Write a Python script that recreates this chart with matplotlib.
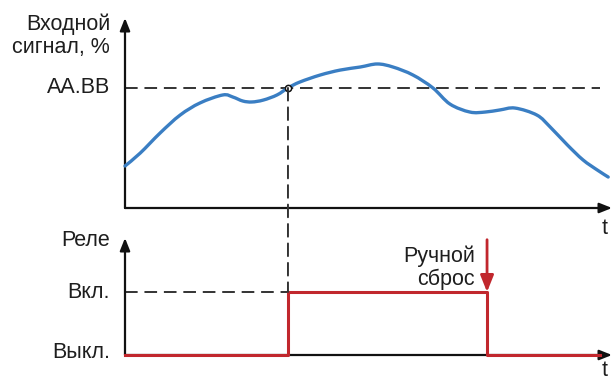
import matplotlib
matplotlib.use('Agg')
import matplotlib.pyplot as plt
from matplotlib.patches import ConnectionPatch, PathPatch
from matplotlib.path import Path

plt.rcParams['font.family'] = ['Liberation Sans', 'DejaVu Sans']

# input signal (time 0..100, signal %)
t_sig = [0, 3.2, 7.4, 11.6, 15.8, 20.6, 22.7, 24.8, 26.7, 29.1, 32.0,
         34.3, 36.8, 41.1, 45.3, 49.5, 53.1, 56.4, 60.6, 64.8, 68.4, 72.6,
         75.8, 78.9, 82.1, 86.7, 89.5, 93.1, 96.4, 99.4, 101.7]
v_sig = [22.1, 28.9, 39.5, 48.9, 55.3, 59.5, 58.4, 56.3, 55.8, 56.8, 59.5,
         63.2, 66.3, 70.0, 72.6, 74.2, 75.8, 74.2, 70.0, 63.2, 54.7, 50.5,
         50.5, 51.6, 52.6, 48.9, 42.6, 33.2, 25.3, 20.0, 16.3]
level = 63.2
level_label = 'AA.BB'
t_on = 34.3
t_off = 76.2
t_end = 100
relay_t = [0, t_on, t_on, t_off, t_off, t_end]
relay_v = [0, 0, 1, 1, 0, 0]

W, H = 614, 381
blue = '#3a7ec3'
red = '#c1272d'
dash_col = '#333333'
txt_col = '#1e1e1e'
dash = (0, (6.5, 3.5))
fs = 15.5


def smooth_path(xs, ys):
    # Catmull-Rom through the read points, drawn as bezier segments
    verts = [(xs[0], ys[0])]
    codes = [Path.MOVETO]
    n = len(xs)
    for i in range(n - 1):
        x0, y0 = (xs[i - 1], ys[i - 1]) if i > 0 else (xs[i], ys[i])
        x1, y1 = xs[i], ys[i]
        x2, y2 = xs[i + 1], ys[i + 1]
        x3, y3 = (xs[i + 2], ys[i + 2]) if i + 2 < n else (x2, y2)
        verts += [(x1 + (x2 - x0) / 6, y1 + (y2 - y0) / 6),
                  (x2 - (x3 - x1) / 6, y2 - (y3 - y1) / 6),
                  (x2, y2)]
        codes += [Path.CURVE4] * 3
    return Path(verts, codes)


fig = plt.figure(figsize=(W / 100, H / 100), dpi=100)
fig.patch.set_facecolor('white')
ax = fig.add_axes([125 / W, (H - 208) / H, 487 / W, 190 / H])
ax2 = fig.add_axes([125 / W, (H - 355) / H, 487 / W, 117 / H])
ax.set_xlim(0, 102.5)
ax.set_ylim(0, 100)
ax2.set_xlim(0, 102.5)
ax2.set_ylim(0, 117 / 63)
for a in (ax, ax2):
    a.set_axis_off()
    head = '-|>,head_length=0.75,head_width=0.3'
    a.annotate('', xy=(1, 0), xytext=(0, 0), xycoords='axes fraction',
               arrowprops=dict(arrowstyle=head, lw=1.6, color='#111111',
                               shrinkA=0, shrinkB=0))
    a.annotate('', xy=(0, 1), xytext=(0, 0), xycoords='axes fraction',
               arrowprops=dict(arrowstyle=head, lw=1.6, color='#111111',
                               shrinkA=0, shrinkB=0))

# top: input signal
ax.plot([0, t_end], [level, level], color=dash_col, lw=1.4, linestyle=dash,
        zorder=2)
ax.add_patch(PathPatch(smooth_path(t_sig, v_sig), facecolor='none',
                       edgecolor=blue, lw=2.4, capstyle='round', zorder=3,
                       clip_on=False))
ax.plot([t_on], [level], marker='o', ms=4.5, mfc='white', mec='#111111',
        mew=1.1, zorder=4, clip_on=False)
con = ConnectionPatch(xyA=(t_on, level), coordsA=ax.transData,
                      xyB=(t_on, 1), coordsB=ax2.transData,
                      color=dash_col, lw=1.4, linestyle=dash, zorder=1)
fig.add_artist(con)

# bottom: relay
ax2.plot([0, t_on], [1, 1], color=dash_col, lw=1.4, linestyle=dash, zorder=2)
ax2.plot(relay_t, relay_v, color=red, lw=2.2, clip_on=False, zorder=3)
ax2.annotate('', xy=(t_off, 1), xytext=(t_off, 1.83), xycoords='data',
             arrowprops=dict(arrowstyle='-|>,head_length=1.0,head_width=0.4',
                             lw=2.0, color=red, shrinkA=0, shrinkB=0),
             zorder=4)
ax2.annotate('Ручной\nсброс', xy=(t_off, 1), xytext=(-12, 24),
             textcoords='offset pixels', ha='right', va='center',
             fontsize=fs, color=txt_col, linespacing=1.08)

lab = dict(xycoords=('axes fraction', 'data'), textcoords='offset pixels',
           ha='right', va='center', fontsize=fs, color=txt_col)
ax.annotate('Входной\nсигнал, %', xy=(0, 90.5), xytext=(-15, 0),
            linespacing=1.12, **lab)
ax.annotate(level_label, xy=(0, level), xytext=(-15, 0), **lab)
ax2.annotate('Реле', xy=(0, 1.82), xytext=(-15, 0), **lab)
ax2.annotate('Вкл.', xy=(0, 1), xytext=(-15, 0), **lab)
ax2.annotate('Выкл.', xy=(0, 0), xytext=(-15, 3), **lab)
ax.annotate('t', xy=(1, 0), xytext=(-7, -21), xycoords='axes fraction',
            textcoords='offset pixels', ha='center', va='center',
            fontsize=fs, color=txt_col)
ax2.annotate('t', xy=(1, 0), xytext=(-7, -16), xycoords='axes fraction',
             textcoords='offset pixels', ha='center', va='center',
             fontsize=fs, color=txt_col)

fig.savefig('out.png', dpi=100, facecolor='white')
